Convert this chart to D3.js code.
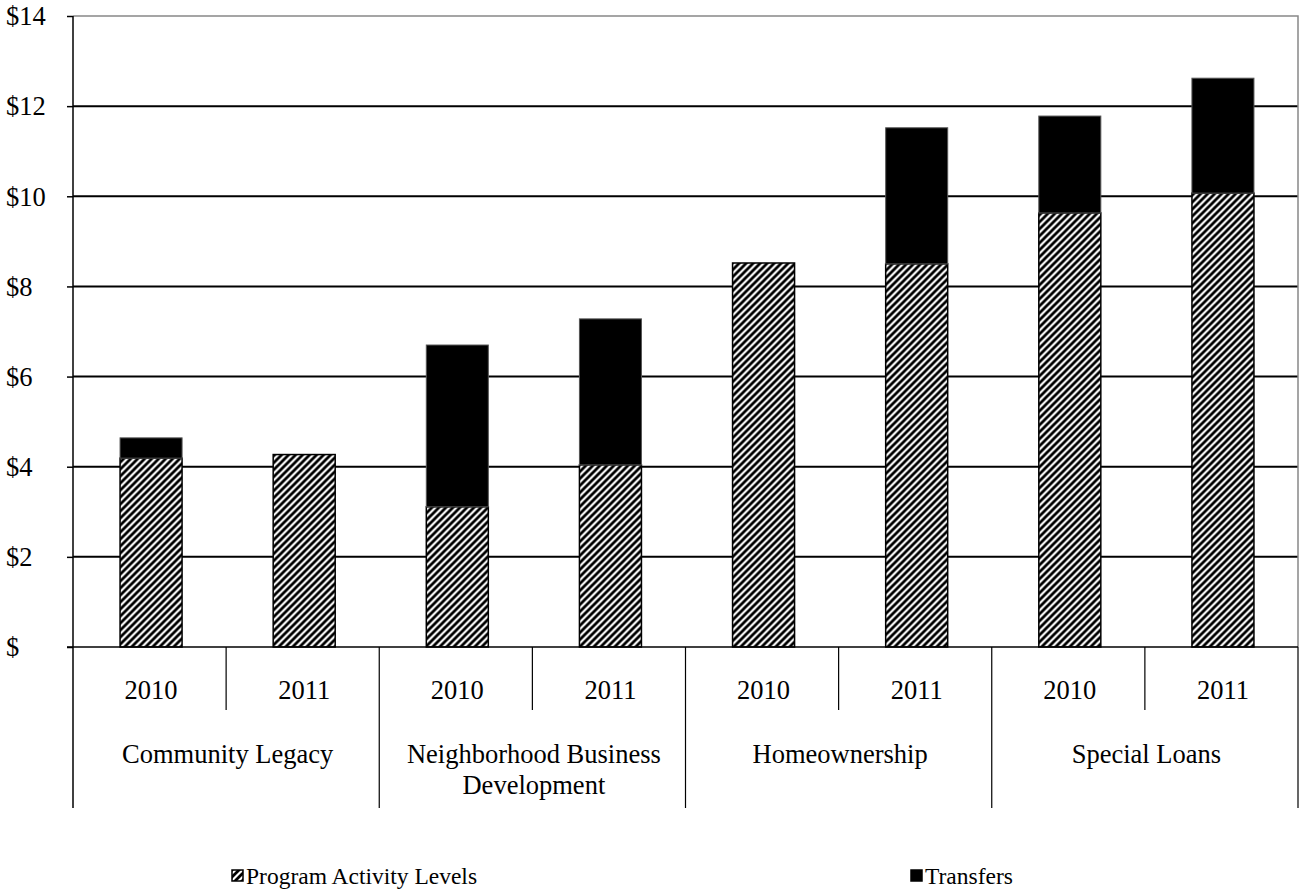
<!DOCTYPE html>
<html><head><meta charset="utf-8">
<script src="https://cdn.jsdelivr.net/npm/d3@7"></script>
<style>
html,body{margin:0;padding:0;background:#fff;}
svg text{font-family:"Liberation Serif","Times New Roman",serif;fill:#000;}
</style></head>
<body>
<svg id="chart" width="1301" height="895"></svg>
<script>
const groups = ["Community Legacy", "Neighborhood Business Development", "Homeownership", "Special Loans"];
const groupLines = [["Community Legacy"], ["Neighborhood Business", "Development"], ["Homeownership"], ["Special Loans"]];
const years = ["2010", "2011"];
const programActivity = [4.19, 4.27, 3.11, 4.04, 8.52, 8.50, 9.63, 10.07];
const transfers = [0.45, 0, 3.59, 3.24, 0, 3.02, 2.15, 2.55];
const yTicks = [0, 2, 4, 6, 8, 10, 12, 14];
const yTickLabels = ["$", "$2", "$4", "$6", "$8", "$10", "$12", "$14"];
const seriesNames = ["Program Activity Levels", "Transfers"];

const FONT = 26.5;
const LEG_FONT = 23.5;
const pLeft = 73, pRight = 1298, pTop = 16, pBottom = 647;
const svg = d3.select("#chart");

const defs = svg.append("defs");
const pat = defs.append("pattern").attr("id", "hatch").attr("patternUnits", "userSpaceOnUse")
  .attr("width", 7).attr("height", 7);
pat.append("rect").attr("width", 7).attr("height", 7).attr("fill", "#fff");
pat.append("path").attr("d", "M-1,8 L8,-1 M-4.5,4.5 L4.5,-4.5 M2.5,11.5 L11.5,2.5")
  .attr("stroke", "#000").attr("stroke-width", 2.8);

const keys = [];
groups.forEach((g, gi) => years.forEach((yr, yi) => keys.push(gi + "-" + yi)));
const rows = keys.map((k, i) => ({ key: k, g: Math.floor(i / 2), year: years[i % 2], pa: programActivity[i], tr: transfers[i] }));

const x = d3.scaleBand().domain(keys).range([pLeft, pRight]).paddingInner(0.595).paddingOuter(0.2975);
const y = d3.scaleLinear().domain([0, 14]).range([pBottom, pTop]);
const step = x.step();

// gridlines
svg.append("g").selectAll("line").data(yTicks.filter(t => t > 0 && t < 14)).join("line")
  .attr("x1", pLeft).attr("x2", pRight).attr("y1", d => y(d)).attr("y2", d => y(d))
  .attr("stroke", "#000").attr("stroke-width", 2);
// plot border (top/right)
svg.append("path").attr("d", `M${pLeft},${y(14)} H${pRight} V${pBottom}`).attr("fill", "none")
  .attr("stroke", "#888").attr("stroke-width", 1.5);

// bars
const bars = svg.append("g").attr("transform", "translate(1.5,0)");
bars.selectAll("rect.pa").data(rows).join("rect").attr("class", "pa")
  .attr("x", d => x(d.key)).attr("width", x.bandwidth())
  .attr("y", d => y(d.pa)).attr("height", d => y(0) - y(d.pa))
  .attr("fill", "url(#hatch)").attr("stroke", "#000").attr("stroke-width", 1.5);
bars.selectAll("rect.tr").data(rows.filter(d => d.tr > 0)).join("rect").attr("class", "tr")
  .attr("x", d => x(d.key)).attr("width", x.bandwidth())
  .attr("y", d => y(d.pa + d.tr)).attr("height", d => y(d.pa) - y(d.pa + d.tr))
  .attr("fill", "#000").attr("stroke", "#555").attr("stroke-width", 1);

// y axis
const yAxis = d3.axisLeft(y).tickValues(yTicks).tickSize(6).tickFormat("");
const ya = svg.append("g").attr("transform", `translate(${pLeft},0)`).call(yAxis);
ya.select(".domain").remove();
ya.selectAll(".tick line").attr("stroke", "#000").attr("stroke-width", 1.5);
svg.append("line").attr("x1", pLeft).attr("x2", pLeft).attr("y1", pTop).attr("y2", 808)
  .attr("stroke", "#000").attr("stroke-width", 1.5);
svg.append("g").selectAll("text").data(yTicks).join("text")
  .attr("x", 6).attr("y", d => y(d)).attr("dy", "0.35em")
  .style("font-size", FONT + "px").text((d, i) => yTickLabels[i]);

// x axis line
svg.append("line").attr("x1", pLeft - 6).attr("x2", pRight).attr("y1", pBottom).attr("y2", pBottom)
  .attr("stroke", "#000").attr("stroke-width", 1.5);

// separators
const sep = svg.append("g").attr("stroke", "#000").attr("stroke-width", 1.2);
keys.forEach((k, i) => {
  if (i === 0) return;
  const xs = pLeft + step * i;
  if (i % 2 === 1) sep.append("line").attr("x1", xs).attr("x2", xs).attr("y1", pBottom).attr("y2", 710);
  else sep.append("line").attr("x1", xs).attr("x2", xs).attr("y1", pBottom).attr("y2", 808);
});
sep.append("line").attr("x1", pRight).attr("x2", pRight).attr("y1", pBottom).attr("y2", 808);

// year labels
svg.append("g").selectAll("text").data(rows).join("text")
  .attr("x", d => x(d.key) + x.bandwidth() / 2 + 1.5).attr("y", 690).attr("dy", "0.35em")
  .attr("text-anchor", "middle").style("font-size", FONT + "px").text(d => d.year);

// group labels
groupLines.forEach((lines, gi) => {
  const cx = pLeft + step * (gi * 2 + 1) + 1.5;
  const t = svg.append("text").attr("text-anchor", "middle").style("font-size", FONT + "px");
  lines.forEach((ln, li) => t.append("tspan").attr("x", cx).attr("y", 754 + li * 31).attr("dy", "0.35em").text(ln));
});

// legend
const legX = [232, 911];
seriesNames.forEach((name, i) => {
  const g = svg.append("g").attr("transform", `translate(${legX[i]},870)`);
  g.append("rect").attr("width", 11).attr("height", 11)
    .attr("fill", i === 0 ? "url(#hatch)" : "#000").attr("stroke", "#000").attr("stroke-width", 1.5);
  g.append("text").attr("x", 14).attr("y", 6).attr("dy", "0.35em").style("font-size", LEG_FONT + "px").text(name);
});
</script>
</body></html>
